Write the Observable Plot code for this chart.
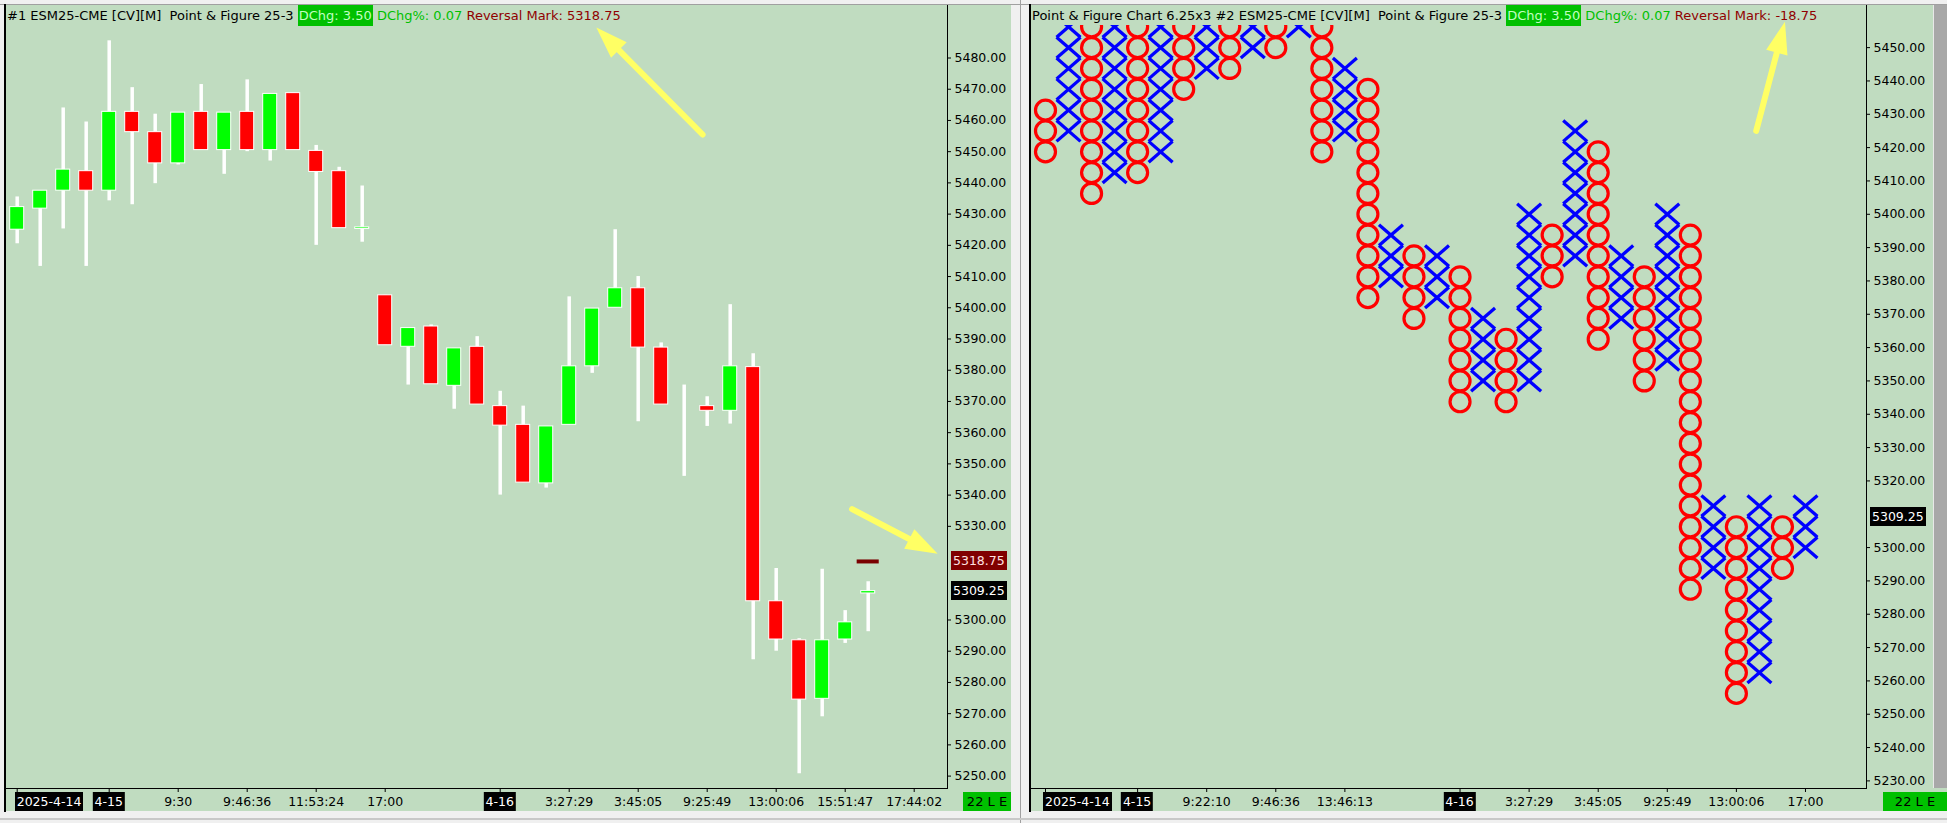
<!DOCTYPE html>
<html>
<head>
<meta charset="utf-8">
<script src="https://cdn.jsdelivr.net/npm/d3@7"></script>
<script src="https://cdn.jsdelivr.net/npm/@observablehq/plot@0.6"></script>
<style>
html,body{margin:0;padding:0}
body{width:1947px;height:823px;background:#f0f0f0;position:relative;overflow:hidden;font-family:"DejaVu Sans",sans-serif}
.line{position:absolute}
.panel{position:absolute;background:#c0dcc0;overflow:hidden}
.panel svg{position:absolute}
.hdr{position:absolute;left:1px;top:0;height:21px;line-height:21px;font-size:13px;white-space:pre;color:#000}
.chg{background:#00c000;color:#c0ffc0;padding:0 1px;display:inline-block;line-height:21px}
.pct{color:#00c000}
.rev{color:#900000}
.date{position:absolute;background:#000;color:#fff;font-size:12.5px;height:19px;line-height:19px;padding:0 2px;white-space:nowrap}
.badge{position:absolute;font-size:12.5px;height:19px;line-height:19px;padding:0 2px;white-space:nowrap}
.status{position:absolute;background:#00c000;color:#000;font-size:13px;height:19px;line-height:19px;text-align:center;white-space:pre}
</style>
</head>
<body>
<script>
// ---------- data: left candlestick chart (Point & Figure 25-3 bars) ----------
const candleOpen  = [5425.00,5431.75,5437.50,5443.75,5437.50,5462.75,5456.25,5446.25,5462.75,5450.50,5462.75,5450.50,5468.75,5450.25,5443.75,5425.25,5404.00,5387.50,5394.00,5375.00,5387.50,5368.50,5362.50,5343.75,5362.50,5381.25,5400.00,5406.25,5387.25,5368.75,5368.50,5367.00,5381.00,5306.00,5293.50,5274.75,5293.75,5308.50];
const candleHigh  = [5435.50,5437.50,5464.00,5459.50,5485.50,5470.50,5462.00,5462.50,5471.50,5462.50,5473.00,5468.50,5468.75,5452.00,5445.00,5439.00,5404.00,5393.50,5394.50,5387.00,5390.75,5373.25,5368.50,5362.00,5403.50,5399.75,5425.00,5410.00,5388.75,5375.25,5371.50,5401.00,5385.25,5316.50,5294.00,5316.25,5303.00,5312.25];
const candleLow   = [5420.50,5413.25,5425.25,5413.25,5434.25,5433.00,5439.75,5445.75,5450.50,5442.75,5450.00,5447.00,5450.50,5420.00,5425.50,5421.00,5388.00,5375.25,5375.50,5367.50,5369.00,5340.00,5344.00,5342.25,5362.50,5379.00,5400.00,5363.50,5369.00,5346.00,5362.00,5362.75,5287.25,5290.00,5250.75,5269.00,5292.50,5296.25];
const candleClose = [5432.25,5437.50,5444.25,5437.50,5462.75,5456.25,5446.25,5462.50,5450.50,5462.50,5450.50,5468.50,5450.50,5443.50,5425.50,5425.75,5388.00,5393.50,5375.50,5387.00,5369.00,5362.25,5344.00,5362.00,5381.25,5399.75,5406.25,5387.25,5369.00,5368.75,5367.00,5381.25,5306.00,5293.75,5274.50,5293.50,5299.25,5309.25];
const leftTickIndex  = [1,5,8,11,14,17,22,25,28,31,34,37,40];
const leftTickLabels = ["2025-4-14","4-15","9:30","9:46:36","11:53:24","17:00","4-16","3:27:29","3:45:05","9:25:49","13:00:06","15:51:47","17:44:02"];
const leftDateTicks  = [1,5,22];
const leftYTicks = d3.range(5250, 5481, 10);

// ---------- data: right Point & Figure chart (6.25 x 3) ----------
const boxSize = 6.25;
const pfType = ["O","X","O","X","O","X","O","X","O","X","O","X","O","X","O","X","O","X","O","X","O","X","O","X","O","X","O","X","O","X","O","X","O","X"];
const pfLow  = [5418.75,5425.00,5406.25,5412.50,5412.50,5418.75,5437.50,5443.75,5443.75,5450.00,5450.00,5456.25,5418.75,5425.00,5375.00,5381.25,5368.75,5375.00,5343.75,5350.00,5343.75,5350.00,5381.25,5387.50,5362.50,5368.75,5350.00,5356.25,5287.50,5293.75,5256.25,5262.50,5293.75,5300.00];
const pfHigh = [5431.25,5462.50,5456.25,5462.50,5456.25,5462.50,5456.25,5462.50,5456.25,5462.50,5456.25,5462.50,5456.25,5443.75,5437.50,5393.75,5387.50,5387.50,5381.25,5368.75,5362.50,5400.00,5393.75,5425.00,5418.75,5387.50,5381.25,5400.00,5393.75,5312.50,5306.25,5312.50,5306.25,5312.50];
const rightTickIndex  = [1,5,8,11,14,19,22,25,28,31,34];
const rightTickLabels = ["2025-4-14","4-15","9:22:10","9:46:36","13:46:13","4-16","3:27:29","3:45:05","9:25:49","13:00:06","17:00"];
const rightDateTicks  = [1,5,19];
const rightYTicks = d3.range(5230, 5451, 10);

// ---------- study values ----------
const lastPrice = 5309.25;
const reversalMarkLeft = 5318.75;
const reversalMarkRight = -18.75;
const dailyChange = 3.50;
const dailyChangePct = 0.07;
const statusText = "22 L E";

// ---------- annotation arrows (data coordinates) ----------
const arrowsLeft  = [{x1:30.80, y1:5455.5, x2:26.18, y2:5489.8}, {x1:37.30, y1:5335.5, x2:41.02, y2:5321.2}];
const arrowsRight = [{x1:31.86, y1:5425.0, x2:33.11, y2:5457.8}];

const f2 = v => v.toFixed(2);
const YELLOW = "#ffff64";
const headSymbol = {draw(ctx){ ctx.moveTo(0,0); ctx.lineTo(11,32); ctx.lineTo(-11,32); ctx.closePath(); }};

function el(parent, tag, cls, style, text) {
  const d = document.createElement(tag);
  if (cls) d.className = cls;
  if (style) Object.assign(d.style, style);
  if (text != null) d.textContent = text;
  parent.appendChild(d);
  return d;
}

// window chrome
el(document.body, "div", "line", {left:"0px", top:"4px", width:"1947px", height:"1px", background:"#a0a0a0"});
el(document.body, "div", "line", {left:"4px", top:"4px", width:"2px", height:"808px", background:"#000"});
el(document.body, "div", "line", {left:"1020px", top:"0px", width:"1px", height:"823px", background:"#a0a0a0"});
el(document.body, "div", "line", {left:"1029px", top:"4px", width:"2px", height:"808px", background:"#000"});
el(document.body, "div", "line", {left:"0px", top:"818px", width:"1947px", height:"2px", background:"#c8c8c8"});

function header(panel, parts) {
  const h = el(panel, "div", "hdr");
  el(h, "span", null, null, parts[0]);
  el(h, "span", "chg", null, parts[1]);
  el(h, "span", "pct", null, parts[2]);
  el(h, "span", "rev", null, parts[3]);
}

function buildPanel(cfg) {
  const panel = el(document.body, "div", "panel", {left: cfg.left + "px", top: "5px", width: cfg.width + "px", height: "806px"});
  const svgTop = 20, svgH = 786, mB = 23, mR = cfg.marginRight;
  const innerW = cfg.width - mR, innerH = svgH - mB;
  const pxX = innerW / (cfg.xDomain[1] - cfg.xDomain[0]);
  const pxY = innerH / (cfg.yDomain[1] - cfg.yDomain[0]);
  const angle = d => Math.atan2((d.x2 - d.x1) * pxX, (d.y2 - d.y1) * pxY) * 180 / Math.PI;
  const labelMap = new Map(cfg.ticks.map((t, k) => [t, cfg.labels[k]]));
  const dateSet = new Set(cfg.dates);
  // price labels hidden behind the price badges (as in the reference)
  const yTicks = cfg.yTicks.filter(t => cfg.badges.every(b => Math.abs(t - b.value) * pxY > 16));
  const plot = Plot.plot({
    width: cfg.width, height: svgH,
    marginLeft: 0, marginRight: mR, marginTop: 0, marginBottom: mB,
    x: {domain: cfg.xDomain},
    y: {domain: cfg.yDomain},
    color: {type: "identity"},
    style: {background: "transparent", color: "#000", fontFamily: "DejaVu Sans", fontSize: "12.5px", overflow: "visible"},
    marks: [
      ...cfg.marks,
      Plot.ruleY([cfg.yDomain[0]], {stroke: "#000", strokeWidth: 1}),
      Plot.axisY({anchor: "right", ticks: yTicks, tickFormat: f2, tickSize: 3, tickPadding: 4, fontSize: 12.5, stroke: "#000"}),
      Plot.axisX({ticks: cfg.ticks, tickFormat: t => dateSet.has(t) ? "" : labelMap.get(t), tickSize: 4, tickPadding: 5, fontSize: 12.5, stroke: "#000"}),
      Plot.arrow(cfg.arrows, {x1: "x1", y1: "y1", x2: "x2", y2: "y2", stroke: YELLOW, strokeWidth: 6, headLength: 0, insetEnd: 18}),
      Plot.dot(cfg.arrows, {x: "x2", y: "y2", symbol: headSymbol, r: 4, fill: YELLOW, stroke: "none", rotate: angle})
    ]
  });
  plot.style.left = "0px";
  plot.style.top = svgTop + "px";
  panel.appendChild(plot);
  const xs = plot.scale("x"), ys = plot.scale("y");
  // right axis line
  el(panel, "div", "line", {left: innerW + "px", top: "0px", width: "1px", height: (svgTop + innerH + 1) + "px", background: "#000"});
  header(panel, cfg.header);
  // date labels on black
  cfg.dates.forEach(t => {
    const k = cfg.ticks.indexOf(t);
    const x = xs.apply(t);
    const d = el(panel, "div", "date", {top: (svgTop + innerH + 4) + "px"}, cfg.labels[k]);
    if (k === 0) d.style.left = (x - 2) + "px";
    else { d.style.left = x + "px"; d.style.transform = "translateX(-50%)"; }
  });
  // price badges
  cfg.badges.forEach(b => {
    el(panel, "div", "badge", {left: (innerW + 4) + "px", top: (svgTop + ys.apply(b.value) - 9.5) + "px", background: b.bg, color: b.color}, f2(b.value));
  });
  // status box
  el(panel, "div", "status", {left: cfg.statusLeft + "px", width: (cfg.width - cfg.statusLeft) + "px", top: (svgTop + innerH + 4) + "px"}, statusText);
  return panel;
}

// ---------- left panel ----------
const candles = candleOpen.map((o, k) => ({i: k + 1, open: o, high: candleHigh[k], low: candleLow[k], close: candleClose[k]}));
const lastIndex = candles.length;
buildPanel({
  left: 6, width: 1005, marginRight: 64,
  xDomain: [0.535, 41.448], yDomain: [5246.03, 5490.41],
  yTicks: leftYTicks, ticks: leftTickIndex, labels: leftTickLabels, dates: leftDateTicks,
  arrows: arrowsLeft,
  header: ["#1 ESM25-CME [CV][M]  Point & Figure 25-3 ", "DChg: " + f2(dailyChange), " DChg%: " + f2(dailyChangePct), " Reversal Mark: " + f2(reversalMarkLeft)],
  badges: [{value: reversalMarkLeft, bg: "#800000", color: "#ffe0e0"}, {value: lastPrice, bg: "#000", color: "#fff"}],
  statusLeft: 957,
  marks: [
    Plot.ruleX(candles, {x: "i", y1: "low", y2: "high", stroke: "#fff", strokeWidth: 3.5, clip: true}),
    Plot.rect(candles, {x1: d => d.i - 0.5, x2: d => d.i + 0.5, insetLeft: 4.5, insetRight: 4.5, y1: "open", y2: "close",
      fill: d => d.close >= d.open ? "#00ff00" : "#ff0000", stroke: "#fff", strokeWidth: 1, clip: true}),
    Plot.ruleY([reversalMarkLeft], {x1: lastIndex - 0.48, x2: lastIndex + 0.48, stroke: "#7a0000", strokeWidth: 4})
  ]
});

// ---------- right panel ----------
const pfBoxes = [];
pfType.forEach((t, k) => {
  const n = Math.round((pfHigh[k] - pfLow[k]) / boxSize);
  for (let j = 0; j <= n; j++) pfBoxes.push({c: k + 1, v: pfLow[k] + j * boxSize, t});
});
const xBoxes = pfBoxes.filter(b => b.t === "X");
const oBoxes = pfBoxes.filter(b => b.t === "O");
const xw = 0.52, yh = boxSize / 2;
buildPanel({
  left: 1031, width: 916, marginRight: 81,
  xDomain: [0.392, 36.65], yDomain: [5227.72, 5456.64],
  yTicks: rightYTicks, ticks: rightTickIndex, labels: rightTickLabels, dates: rightDateTicks,
  arrows: arrowsRight,
  header: ["Point & Figure Chart 6.25x3 #2 ESM25-CME [CV][M]  Point & Figure 25-3 ", "DChg: " + f2(dailyChange), " DChg%: " + f2(dailyChangePct), " Reversal Mark: " + f2(reversalMarkRight)],
  badges: [{value: lastPrice, bg: "#000", color: "#fff"}],
  statusLeft: 852,
  marks: [
    Plot.link(xBoxes, {x1: d => d.c - xw, y1: d => d.v - yh, x2: d => d.c + xw, y2: d => d.v + yh, stroke: "#0000ff", strokeWidth: 3.3, clip: true}),
    Plot.link(xBoxes, {x1: d => d.c - xw, y1: d => d.v + yh, x2: d => d.c + xw, y2: d => d.v - yh, stroke: "#0000ff", strokeWidth: 3.3, clip: true}),
    Plot.dot(oBoxes, {x: "c", y: "v", r: 10, stroke: "#ff0000", strokeWidth: 3.2, fill: "none", clip: true})
  ]
});
// right-edge scroll strip
el(document.body, "div", "line", {left: "1933px", top: "5px", width: "1px", height: "783px", background: "#e8e8e8"});
el(document.body, "div", "line", {left: "1934px", top: "5px", width: "13px", height: "783px", background: "#a8a8a8"});
</script>
</body>
</html>
